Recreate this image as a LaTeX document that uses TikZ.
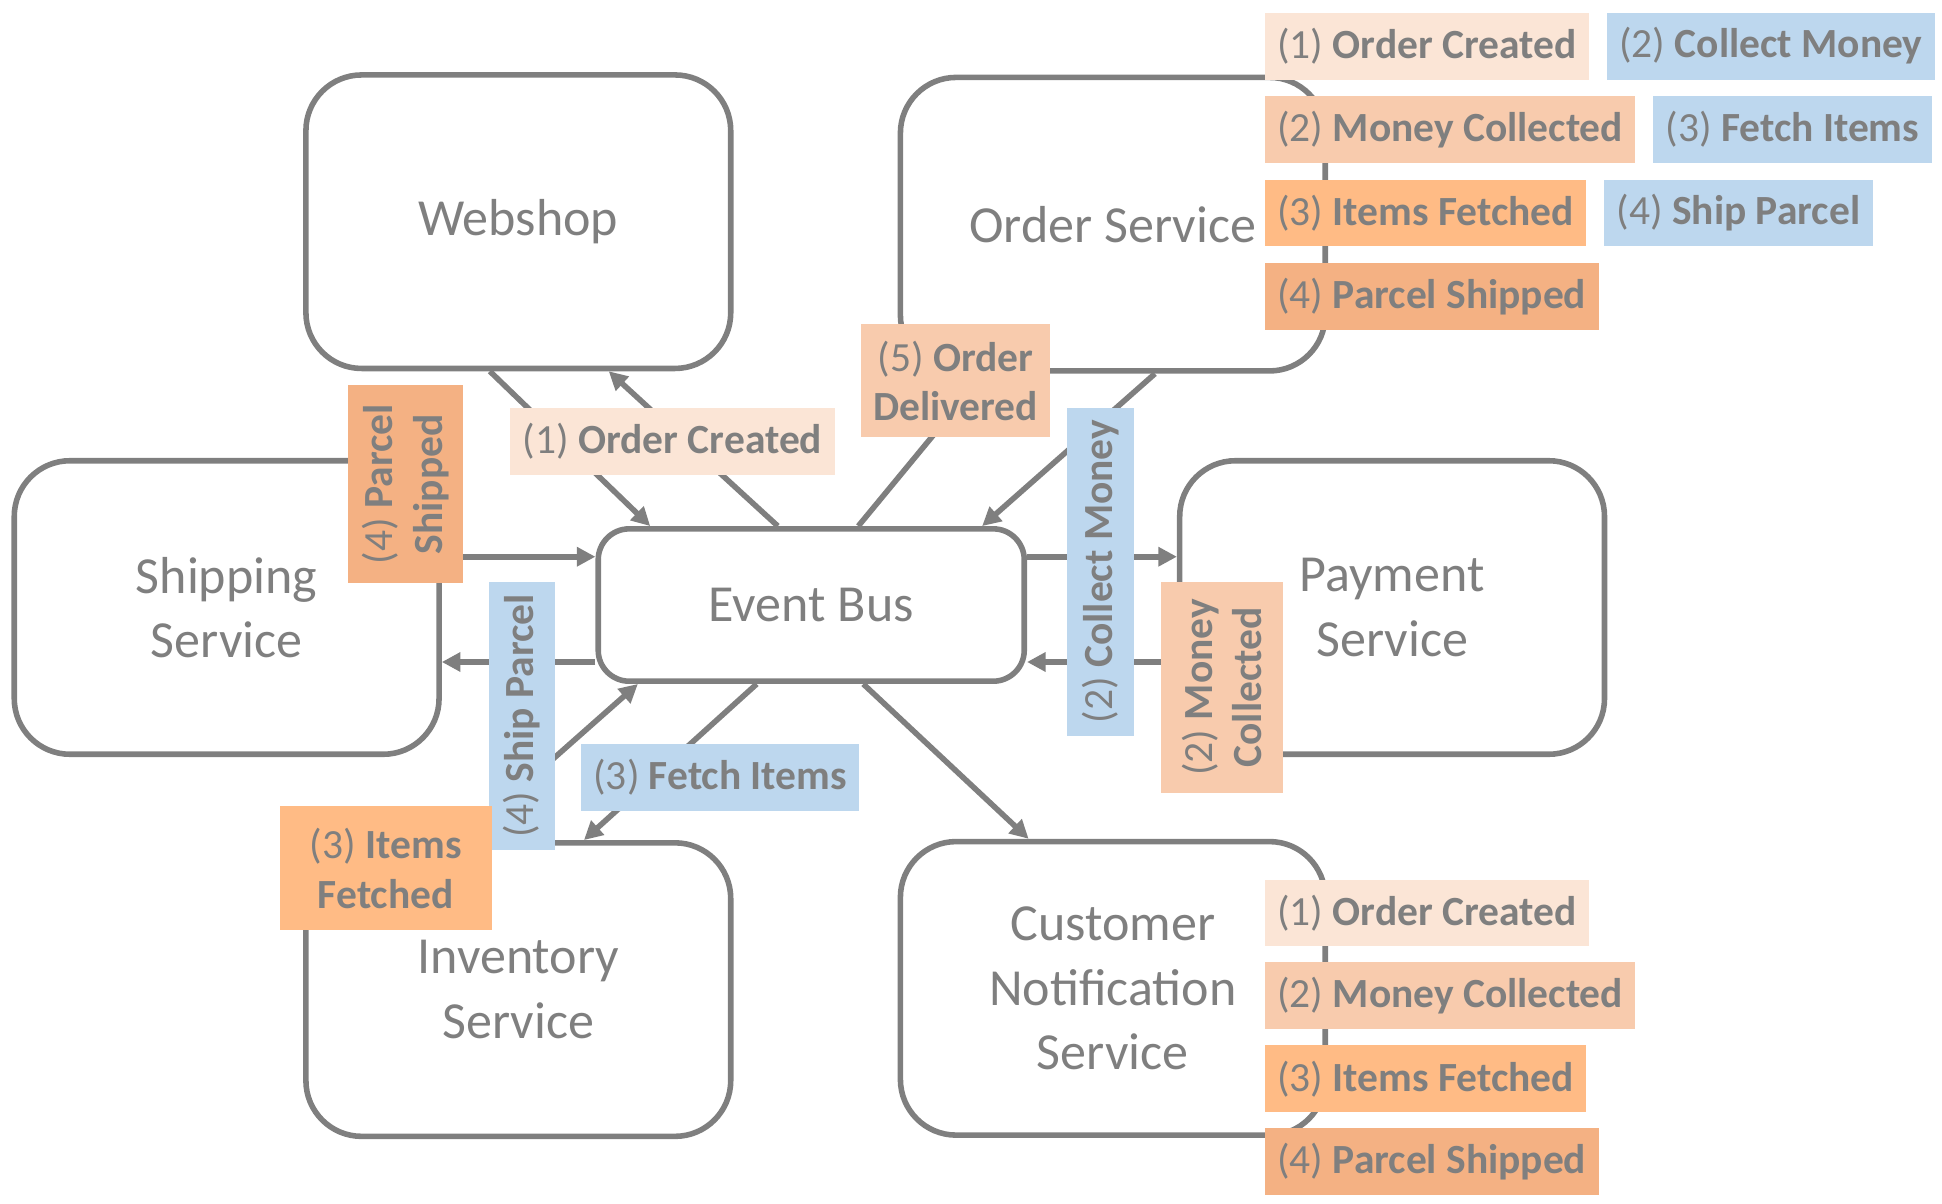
\documentclass[tikz,border=0pt]{standalone}
\usepackage{fontspec}
\setmainfont{Carlito}
\usetikzlibrary{arrows.meta, positioning}
\definecolor{linegray}{RGB}{127, 127, 127}
\definecolor{paleorange}{RGB}{251, 229, 214}
\definecolor{lightorange}{RGB}{248, 203, 173}
\definecolor{brightorange}{RGB}{255, 187, 133}
\definecolor{midorange}{RGB}{244, 177, 131}
\definecolor{paleblue}{RGB}{189, 215, 238}

\begin{document}
\begin{tikzpicture}[
    x=1pt, y=-1pt,
    node distance=13pt,
    service/.style={rectangle, draw=linegray, line width=4.5pt, rounded corners=45pt, minimum width=343pt, minimum height=237pt, align=center, text=linegray, font=\fontsize{42}{52}\selectfont},
    busbox/.style={service, rounded corners=25pt, minimum width=344pt, minimum height=123pt},
    evt/.style={rectangle, text=linegray, inner xsep=10pt, inner ysep=8pt, minimum height=54pt, align=center, font=\fontsize{33.5}{40}\selectfont},
    created/.style={evt, fill=paleorange},
    collected/.style={evt, fill=lightorange},
    fetched/.style={evt, fill=brightorange},
    shipped/.style={evt, fill=midorange},
    command/.style={evt, fill=paleblue},
    arrow/.style={line width=4.5pt, -{Triangle[length=15pt, width=15pt]}, linegray}
]
\useasboundingbox (0,0) rectangle (1568,972);

\node (webshop) [service] at (418.5,179) {Webshop};
\node (order) [service] at (898.5,181) {Order Service};
\node (shipping) [service] at (183,490.5) {Shipping\\Service};
\node (bus) [busbox] at (655,488.5) {Event Bus};
\node (payment) [service] at (1124,490.5) {Payment\\Service};
\node (inventory) [service] at (418.5,799) {Inventory\\Service};
\node (notify) [service] at (898.5,798) {Customer\\Notification\\Service};

\draw[arrow] ([xshift=-23pt]webshop.south) -- ([xshift=-130pt]bus.north);
\draw[arrow] ([xshift=-27pt]bus.north) -- ([xshift=73pt]webshop.south);
\draw[arrow] ([xshift=34pt]order.south) -- ([xshift=138pt]bus.north);
\draw[arrow] ([xshift=38pt]bus.north) -- ([xshift=-104pt]order.south);
\draw[arrow] ([yshift=39pt]bus.east) -- ([yshift=39pt]bus.east -| payment.west);
\draw[arrow] ([yshift=-46pt]bus.east -| payment.west) -- ([yshift=-46pt]bus.east);
\draw[arrow] ([yshift=39pt]bus.west -| shipping.east) -- ([yshift=39pt]bus.west);
\draw[arrow] ([yshift=-46pt]bus.west) -- ([yshift=-46pt]bus.west -| shipping.east);
\draw[arrow] ([xshift=-44pt]bus.south) -- ([xshift=53pt]inventory.north);
\draw[arrow] ([xshift=-46pt]inventory.north) -- ([xshift=-140pt]bus.south);
\draw[arrow] ([xshift=42pt]bus.south) -- ([xshift=-68pt]notify.north);

\node (oclink) [created] at (543,356.5) {(1) \textbf{Order Created}};
\node (odlink) [collected, minimum width=153pt, minimum height=91pt] at (771.5,307.5) {(5) \textbf{Order}\\\textbf{Delivered}};
\node (cmlink) [command, rotate=90, minimum width=257pt] at (888.5,461.5) {(2) \textbf{Collect Money}};
\node (mclink) [collected, rotate=90, minimum width=170pt, minimum height=99pt] at (986.5,555) {(2) \textbf{Money}\\\textbf{Collected}};
\node (pslink) [shipped, rotate=90, minimum width=160pt, minimum height=93pt] at (327.5,391) {(4) \textbf{Parcel}\\\textbf{Shipped}};
\node (splink) [command, rotate=90, minimum width=214pt] at (421.5,578) {(4) \textbf{Ship Parcel}};
\node (filink) [command] at (581.5,627.5) {(3) \textbf{Fetch Items}};
\node (iflink) [fetched, minimum width=171pt, minimum height=100pt] at (311.5,701) {(3) \textbf{Items}\\\textbf{Fetched}};

\node (os1) [created, anchor=north west] at (1021,10) {(1) \textbf{Order Created}};
\node (os2) [collected, below=13pt of os1.south west, anchor=north west] {(2) \textbf{Money Collected}};
\node (os3) [fetched, below=13pt of os2.south west, anchor=north west] {(3) \textbf{Items Fetched}};
\node (os4) [shipped, below=13pt of os3.south west, anchor=north west] {(4) \textbf{Parcel Shipped}};

\node (cs2) [command, right=14pt of os1] {(2) \textbf{Collect Money}};
\node (cs3) [command, right=14pt of os2] {(3) \textbf{Fetch Items}};
\node (cs4) [command, right=14pt of os3] {(4) \textbf{Ship Parcel}};

\node (ns1) [created, anchor=north west] at (1021,710) {(1) \textbf{Order Created}};
\node (ns2) [collected, below=12.5pt of ns1.south west, anchor=north west] {(2) \textbf{Money Collected}};
\node (ns3) [fetched, below=12.5pt of ns2.south west, anchor=north west] {(3) \textbf{Items Fetched}};
\node (ns4) [shipped, below=12.5pt of ns3.south west, anchor=north west] {(4) \textbf{Parcel Shipped}};

\end{tikzpicture}
\end{document}
